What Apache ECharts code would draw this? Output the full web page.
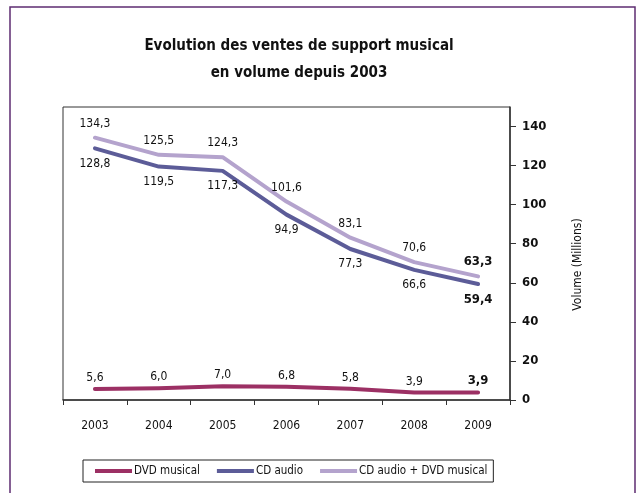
<!DOCTYPE html>
<html><head><meta charset="utf-8">
<script src="https://cdn.jsdelivr.net/npm/echarts@6/dist/echarts.min.js"></script>
<style>html,body{margin:0;padding:0;background:#fff}#c{width:638px;height:493px}</style>
</head><body><div id="c"></div>
<script>
const years = ['2003','2004','2005','2006','2007','2008','2009'];
const dvdMusical = [5.6, 6.0, 7.0, 6.8, 5.8, 3.9, 3.9];
const cdAudio = [128.8, 119.5, 117.3, 94.9, 77.3, 66.6, 59.4];
const cdPlusDvd = [134.3, 125.5, 124.3, 101.6, 83.1, 70.6, 63.3];
const yTicks = [0, 20, 40, 60, 80, 100, 120, 140];
const seriesNames = ['DVD musical', 'CD audio', 'CD audio + DVD musical'];

const FONT = "'Liberation Sans Narrow', 'DejaVu Sans Condensed', 'Roboto', sans-serif";
const colors = ['#9c3064', '#5c5c98', '#b4a3cd'];
const fmt = v => v.toFixed(1).replace('.', ',');

function mkData(arr) {
  return arr.map((v, i) => i === arr.length - 1
    ? { value: v, label: { fontWeight: 'bold', fontSize: 13 } }
    : v);
}

function mkSeries(name, arr, color, pos, dist, z) {
  return {
    name, type: 'line', data: mkData(arr), z,
    symbol: 'circle', symbolSize: 0, showSymbol: true,
    lineStyle: { color, width: 4, cap: 'round', join: 'round' },
    itemStyle: { color },
    label: { show: true, position: pos, distance: dist, color: '#111',
      fontFamily: FONT, fontSize: 12, formatter: p => fmt(p.value) },
    emphasis: { disabled: true }, animation: false
  };
}

const chart = echarts.init(document.getElementById('c'), null, { renderer: 'canvas' });
chart.setOption({
  animation: false,
  textStyle: { fontFamily: FONT },
  title: {
    text: 'Evolution des ventes de support musical\nen volume depuis 2003',
    left: 294, top: 28, textAlign: 'center',
    textStyle: { fontFamily: FONT, fontSize: 15, fontWeight: 'bold', color: '#111', lineHeight: 27 }
  },
  graphic: [{
    type: 'rect', shape: { x: 10, y: 7, width: 625, height: 500 },
    style: { fill: 'none', stroke: '#5e2d72', lineWidth: 1.5 }, z: -1
  }],
  grid: { left: 63, top: 107, right: 128, bottom: 93, show: true, borderColor: '#333', borderWidth: 1 },
  legend: {
    data: seriesNames, left: 83, top: 460,
    orient: 'horizontal', icon: 'rect', itemWidth: 37, itemHeight: 4, itemGap: 17,
    borderColor: '#222', borderWidth: 1, padding: [5, 6, 5, 12],
    textStyle: { fontFamily: FONT, fontSize: 11.5, color: '#111', padding: [0, 0, 0, -3] },
    selectedMode: false
  },
  xAxis: {
    type: 'category', data: years, boundaryGap: true,
    axisLine: { lineStyle: { color: '#333', width: 1.5 } },
    axisTick: { show: true, length: 5, lineStyle: { color: '#333' } },
    axisLabel: { fontFamily: FONT, fontSize: 12, color: '#111', margin: 20 }
  },
  yAxis: {
    type: 'value', position: 'right', min: 0, max: 150, interval: 10,
    name: 'Volume (Millions)', nameLocation: 'middle', nameRotate: 90, nameGap: 62,
    nameTextStyle: { fontFamily: FONT, fontSize: 12, color: '#111', padding: [0, 0, 0, -22] },
    axisLine: { show: true, lineStyle: { color: '#333', width: 1.5 } },
    axisTick: { show: true, length: 6, customValues: yTicks, lineStyle: { color: '#333' } },
    axisLabel: { customValues: yTicks, fontFamily: FONT, fontSize: 13, fontWeight: 'bold', color: '#111', margin: 12 },
    splitLine: { show: false }
  },
  series: [
    mkSeries(seriesNames[0], dvdMusical, colors[0], 'top', 5, 3),
    mkSeries(seriesNames[1], cdAudio, colors[1], 'bottom', 9, 2),
    mkSeries(seriesNames[2], cdPlusDvd, colors[2], 'top', 8, 1)
  ]
});
</script></body></html>
